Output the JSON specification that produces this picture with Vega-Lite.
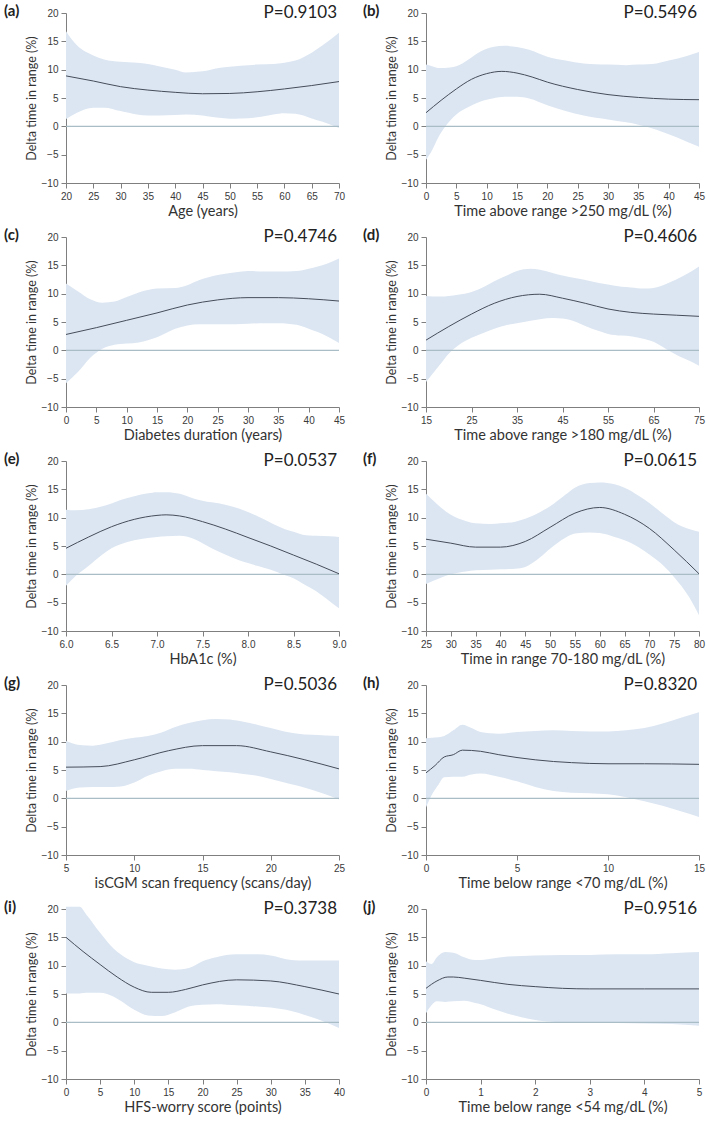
{
"$schema":"https://vega.github.io/schema/vega-lite/v6.json",
"padding":{"left":4,"top":4,"right":5,"bottom":5},
"columns":2,
"spacing":{"row":54,"column":87},
"bounds":"flush",
"datasets":{
"meta":[{"p":"a","t":"P=0.9103"},{"p":"b","t":"P=0.5496"},{"p":"c","t":"P=0.4746"},{"p":"d","t":"P=0.4606"},{"p":"e","t":"P=0.0537"},{"p":"f","t":"P=0.0615"},{"p":"g","t":"P=0.5036"},{"p":"h","t":"P=0.8320"},{"p":"i","t":"P=0.3738"},{"p":"j","t":"P=0.9516"}],
"band":[
{"p":"a","x":20,"lo":1.3,"hi":16.8},{"p":"a","x":22,"lo":2.4,"hi":14.3},{"p":"a","x":25,"lo":3.3,"hi":12.5},{"p":"a","x":27,"lo":3.3,"hi":11.8},{"p":"a","x":30,"lo":2.7,"hi":11.4},{"p":"a","x":33,"lo":2.1,"hi":11.2},{"p":"a","x":35,"lo":1.9,"hi":11.0},{"p":"a","x":37,"lo":1.9,"hi":10.6},{"p":"a","x":40,"lo":2.0,"hi":10.0},{"p":"a","x":42,"lo":2.1,"hi":9.5},{"p":"a","x":45,"lo":1.9,"hi":9.7},{"p":"a","x":48,"lo":1.5,"hi":10.3},{"p":"a","x":50,"lo":1.35,"hi":10.5},{"p":"a","x":52,"lo":1.4,"hi":10.7},{"p":"a","x":55,"lo":1.6,"hi":10.9},{"p":"a","x":58,"lo":2.1,"hi":11.0},{"p":"a","x":60,"lo":2.3,"hi":11.2},{"p":"a","x":62,"lo":2.2,"hi":11.6},{"p":"a","x":65,"lo":1.4,"hi":13.0},{"p":"a","x":67,"lo":0.8,"hi":14.3},{"p":"a","x":70,"lo":-0.3,"hi":16.5},
{"p":"b","x":0,"lo":-5.9,"hi":10.9},{"p":"b","x":1,"lo":-4.2,"hi":10.6},{"p":"b","x":2,"lo":-2.0,"hi":10.3},{"p":"b","x":3,"lo":-0.3,"hi":10.3},{"p":"b","x":5,"lo":2.1,"hi":10.6},{"p":"b","x":7,"lo":3.4,"hi":11.8},{"p":"b","x":9,"lo":4.4,"hi":13.2},{"p":"b","x":11,"lo":4.9,"hi":14.0},{"p":"b","x":13,"lo":5.2,"hi":14.2},{"p":"b","x":15,"lo":5.2,"hi":14.0},{"p":"b","x":17,"lo":4.9,"hi":13.5},{"p":"b","x":20,"lo":3.7,"hi":12.3},{"p":"b","x":23,"lo":2.7,"hi":11.6},{"p":"b","x":26,"lo":1.9,"hi":11.1},{"p":"b","x":30,"lo":1.2,"hi":10.9},{"p":"b","x":33,"lo":0.7,"hi":10.8},{"p":"b","x":35,"lo":0.3,"hi":10.9},{"p":"b","x":38,"lo":-0.6,"hi":11.1},{"p":"b","x":40,"lo":-1.4,"hi":11.6},{"p":"b","x":43,"lo":-2.7,"hi":12.4},{"p":"b","x":45,"lo":-3.6,"hi":13.1},
{"p":"c","x":0,"lo":-5.8,"hi":11.8},{"p":"c","x":2,"lo":-3.8,"hi":10.4},{"p":"c","x":4,"lo":-1.3,"hi":9.0},{"p":"c","x":6,"lo":0.3,"hi":8.4},{"p":"c","x":8,"lo":1.0,"hi":8.6},{"p":"c","x":10,"lo":1.2,"hi":9.4},{"p":"c","x":12,"lo":1.4,"hi":10.2},{"p":"c","x":15,"lo":2.3,"hi":10.9},{"p":"c","x":18,"lo":3.8,"hi":11.0},{"p":"c","x":20,"lo":4.4,"hi":11.5},{"p":"c","x":22,"lo":4.6,"hi":12.4},{"p":"c","x":25,"lo":4.6,"hi":13.3},{"p":"c","x":28,"lo":4.6,"hi":13.8},{"p":"c","x":30,"lo":4.7,"hi":14.0},{"p":"c","x":33,"lo":4.8,"hi":13.9},{"p":"c","x":35,"lo":4.8,"hi":13.9},{"p":"c","x":38,"lo":4.5,"hi":14.0},{"p":"c","x":40,"lo":3.8,"hi":14.4},{"p":"c","x":43,"lo":2.5,"hi":15.3},{"p":"c","x":45,"lo":1.3,"hi":16.2},
{"p":"d","x":15,"lo":-5.6,"hi":9.6},{"p":"d","x":18,"lo":-2.6,"hi":9.5},{"p":"d","x":20,"lo":-0.6,"hi":9.6},{"p":"d","x":22,"lo":0.8,"hi":9.8},{"p":"d","x":25,"lo":2.2,"hi":10.3},{"p":"d","x":28,"lo":3.2,"hi":11.3},{"p":"d","x":30,"lo":3.8,"hi":12.2},{"p":"d","x":33,"lo":4.5,"hi":13.3},{"p":"d","x":35,"lo":4.8,"hi":14.0},{"p":"d","x":38,"lo":5.2,"hi":14.4},{"p":"d","x":40,"lo":5.5,"hi":14.2},{"p":"d","x":43,"lo":5.7,"hi":13.6},{"p":"d","x":45,"lo":5.6,"hi":13.2},{"p":"d","x":48,"lo":5.0,"hi":12.7},{"p":"d","x":50,"lo":4.3,"hi":12.4},{"p":"d","x":53,"lo":3.4,"hi":11.9},{"p":"d","x":55,"lo":2.9,"hi":11.6},{"p":"d","x":58,"lo":2.6,"hi":11.2},{"p":"d","x":60,"lo":2.5,"hi":11.1},{"p":"d","x":63,"lo":2.0,"hi":10.9},{"p":"d","x":65,"lo":1.5,"hi":11.0},{"p":"d","x":68,"lo":0.1,"hi":11.8},{"p":"d","x":70,"lo":-0.8,"hi":12.5},{"p":"d","x":73,"lo":-1.9,"hi":13.8},{"p":"d","x":75,"lo":-2.7,"hi":14.8},
{"p":"e","x":6.0,"lo":-2.0,"hi":11.4},{"p":"e","x":6.1,"lo":-0.4,"hi":11.3},{"p":"e","x":6.25,"lo":1.5,"hi":11.5},{"p":"e","x":6.4,"lo":3.5,"hi":12.0},{"p":"e","x":6.5,"lo":4.6,"hi":12.5},{"p":"e","x":6.6,"lo":5.3,"hi":13.1},{"p":"e","x":6.75,"lo":6.0,"hi":13.8},{"p":"e","x":6.9,"lo":6.4,"hi":14.3},{"p":"e","x":7.0,"lo":6.6,"hi":14.5},{"p":"e","x":7.1,"lo":6.7,"hi":14.5},{"p":"e","x":7.25,"lo":6.8,"hi":14.2},{"p":"e","x":7.4,"lo":6.3,"hi":13.4},{"p":"e","x":7.5,"lo":5.5,"hi":13.0},{"p":"e","x":7.6,"lo":4.6,"hi":12.7},{"p":"e","x":7.75,"lo":3.5,"hi":12.3},{"p":"e","x":7.9,"lo":2.5,"hi":11.6},{"p":"e","x":8.0,"lo":2.0,"hi":11.0},{"p":"e","x":8.1,"lo":1.5,"hi":10.3},{"p":"e","x":8.25,"lo":0.8,"hi":9.1},{"p":"e","x":8.4,"lo":-0.1,"hi":8.0},{"p":"e","x":8.5,"lo":-0.7,"hi":7.5},{"p":"e","x":8.6,"lo":-1.6,"hi":7.0},{"p":"e","x":8.75,"lo":-3.0,"hi":6.8},{"p":"e","x":8.9,"lo":-4.8,"hi":6.7},{"p":"e","x":9.0,"lo":-6.0,"hi":6.6},
{"p":"f","x":25,"lo":-1.7,"hi":14.2},{"p":"f","x":28,"lo":-0.6,"hi":11.8},{"p":"f","x":30,"lo":0.0,"hi":10.5},{"p":"f","x":33,"lo":0.5,"hi":9.4},{"p":"f","x":35,"lo":0.7,"hi":9.0},{"p":"f","x":38,"lo":0.8,"hi":8.9},{"p":"f","x":40,"lo":0.9,"hi":9.0},{"p":"f","x":43,"lo":1.0,"hi":9.3},{"p":"f","x":45,"lo":1.3,"hi":9.8},{"p":"f","x":48,"lo":3.0,"hi":11.0},{"p":"f","x":50,"lo":4.5,"hi":12.0},{"p":"f","x":53,"lo":6.4,"hi":14.0},{"p":"f","x":55,"lo":7.2,"hi":15.3},{"p":"f","x":58,"lo":7.4,"hi":16.1},{"p":"f","x":60,"lo":7.3,"hi":16.2},{"p":"f","x":63,"lo":6.6,"hi":15.9},{"p":"f","x":65,"lo":6.0,"hi":15.3},{"p":"f","x":68,"lo":4.7,"hi":13.8},{"p":"f","x":70,"lo":3.5,"hi":12.6},{"p":"f","x":73,"lo":1.4,"hi":10.5},{"p":"f","x":75,"lo":-0.5,"hi":9.2},{"p":"f","x":78,"lo":-4.0,"hi":8.0},{"p":"f","x":80,"lo":-7.2,"hi":7.5},
{"p":"g","x":5,"lo":1.3,"hi":10.1},{"p":"g","x":6,"lo":1.9,"hi":9.4},{"p":"g","x":7,"lo":2.0,"hi":9.3},{"p":"g","x":8,"lo":2.0,"hi":9.7},{"p":"g","x":9,"lo":2.1,"hi":10.3},{"p":"g","x":10,"lo":2.8,"hi":10.7},{"p":"g","x":11,"lo":4.0,"hi":11.0},{"p":"g","x":12,"lo":4.8,"hi":11.6},{"p":"g","x":13,"lo":5.2,"hi":12.6},{"p":"g","x":14,"lo":5.2,"hi":13.3},{"p":"g","x":15,"lo":5.0,"hi":13.8},{"p":"g","x":16,"lo":4.8,"hi":14.0},{"p":"g","x":17,"lo":4.6,"hi":13.9},{"p":"g","x":18,"lo":4.3,"hi":13.5},{"p":"g","x":19,"lo":4.0,"hi":13.0},{"p":"g","x":20,"lo":3.4,"hi":12.4},{"p":"g","x":21,"lo":2.8,"hi":11.8},{"p":"g","x":22,"lo":2.2,"hi":11.4},{"p":"g","x":23,"lo":1.5,"hi":11.2},{"p":"g","x":24,"lo":0.7,"hi":11.1},{"p":"g","x":25,"lo":-0.2,"hi":11.0},
{"p":"h","x":0,"lo":-1.6,"hi":10.6},{"p":"h","x":0.3,"lo":0.5,"hi":10.7},{"p":"h","x":0.7,"lo":2.5,"hi":10.8},{"p":"h","x":1,"lo":3.7,"hi":11.0},{"p":"h","x":1.5,"lo":3.8,"hi":12.0},{"p":"h","x":2,"lo":3.8,"hi":13.0},{"p":"h","x":2.5,"lo":4.2,"hi":12.4},{"p":"h","x":3,"lo":4.4,"hi":11.7},{"p":"h","x":4,"lo":3.8,"hi":11.4},{"p":"h","x":5,"lo":3.0,"hi":11.7},{"p":"h","x":6,"lo":2.0,"hi":11.9},{"p":"h","x":7,"lo":1.3,"hi":12.0},{"p":"h","x":8,"lo":1.0,"hi":11.9},{"p":"h","x":9,"lo":0.9,"hi":11.8},{"p":"h","x":10,"lo":0.7,"hi":11.8},{"p":"h","x":11,"lo":0.2,"hi":12.0},{"p":"h","x":12,"lo":-0.5,"hi":12.4},{"p":"h","x":13,"lo":-1.3,"hi":13.2},{"p":"h","x":14,"lo":-2.3,"hi":14.2},{"p":"h","x":15,"lo":-3.3,"hi":15.2},
{"p":"i","x":0,"lo":5.1,"hi":20.4},{"p":"i","x":2,"lo":5.1,"hi":20.4},{"p":"i","x":3,"lo":5.2,"hi":19.0},{"p":"i","x":5,"lo":5.2,"hi":15.8},{"p":"i","x":7,"lo":4.5,"hi":13.0},{"p":"i","x":8,"lo":3.8,"hi":12.0},{"p":"i","x":10,"lo":2.2,"hi":10.6},{"p":"i","x":12,"lo":1.2,"hi":10.0},{"p":"i","x":14,"lo":1.1,"hi":9.5},{"p":"i","x":16,"lo":1.8,"hi":9.3},{"p":"i","x":18,"lo":2.8,"hi":9.6},{"p":"i","x":20,"lo":3.1,"hi":10.8},{"p":"i","x":22,"lo":3.2,"hi":11.5},{"p":"i","x":25,"lo":3.0,"hi":12.0},{"p":"i","x":28,"lo":2.8,"hi":12.0},{"p":"i","x":30,"lo":2.6,"hi":11.8},{"p":"i","x":33,"lo":2.0,"hi":11.0},{"p":"i","x":35,"lo":1.3,"hi":10.9},{"p":"i","x":37,"lo":0.5,"hi":10.9},{"p":"i","x":40,"lo":-1.0,"hi":10.9},
{"p":"j","x":0,"lo":1.6,"hi":10.8},{"p":"j","x":0.1,"lo":3.0,"hi":10.3},{"p":"j","x":0.2,"lo":3.7,"hi":11.5},{"p":"j","x":0.35,"lo":3.6,"hi":12.4},{"p":"j","x":0.5,"lo":3.7,"hi":12.3},{"p":"j","x":0.7,"lo":3.8,"hi":11.5},{"p":"j","x":0.9,"lo":3.4,"hi":11.0},{"p":"j","x":1.0,"lo":3.2,"hi":11.0},{"p":"j","x":1.25,"lo":2.3,"hi":11.3},{"p":"j","x":1.5,"lo":1.5,"hi":11.6},{"p":"j","x":1.75,"lo":0.9,"hi":11.7},{"p":"j","x":2,"lo":0.4,"hi":11.8},{"p":"j","x":2.5,"lo":0.0,"hi":11.9},{"p":"j","x":3,"lo":-0.1,"hi":11.9},{"p":"j","x":3.5,"lo":-0.1,"hi":12.0},{"p":"j","x":4,"lo":-0.2,"hi":12.0},{"p":"j","x":4.5,"lo":-0.3,"hi":12.2},{"p":"j","x":5,"lo":-0.6,"hi":12.4}
],
"est":[
{"p":"a","x":20,"y":8.9},{"p":"a","x":25,"y":8.0},{"p":"a","x":30,"y":7.0},{"p":"a","x":35,"y":6.4},{"p":"a","x":40,"y":6.0},{"p":"a","x":45,"y":5.75},{"p":"a","x":50,"y":5.8},{"p":"a","x":55,"y":6.1},{"p":"a","x":60,"y":6.6},{"p":"a","x":65,"y":7.2},{"p":"a","x":70,"y":7.9},
{"p":"b","x":0,"y":2.4},{"p":"b","x":2.5,"y":4.6},{"p":"b","x":5,"y":6.6},{"p":"b","x":7.5,"y":8.3},{"p":"b","x":10,"y":9.3},{"p":"b","x":12.5,"y":9.7},{"p":"b","x":15,"y":9.4},{"p":"b","x":17.5,"y":8.7},{"p":"b","x":20,"y":7.8},{"p":"b","x":25,"y":6.5},{"p":"b","x":30,"y":5.6},{"p":"b","x":35,"y":5.1},{"p":"b","x":40,"y":4.8},{"p":"b","x":45,"y":4.7},
{"p":"c","x":0,"y":2.8},{"p":"c","x":5,"y":4.0},{"p":"c","x":10,"y":5.3},{"p":"c","x":15,"y":6.6},{"p":"c","x":20,"y":8.0},{"p":"c","x":25,"y":8.9},{"p":"c","x":30,"y":9.3},{"p":"c","x":35,"y":9.3},{"p":"c","x":40,"y":9.1},{"p":"c","x":45,"y":8.7},
{"p":"d","x":15,"y":1.8},{"p":"d","x":20,"y":4.2},{"p":"d","x":25,"y":6.4},{"p":"d","x":30,"y":8.3},{"p":"d","x":35,"y":9.5},{"p":"d","x":40,"y":9.9},{"p":"d","x":45,"y":9.2},{"p":"d","x":50,"y":8.3},{"p":"d","x":55,"y":7.3},{"p":"d","x":60,"y":6.7},{"p":"d","x":65,"y":6.4},{"p":"d","x":70,"y":6.2},{"p":"d","x":75,"y":6.0},
{"p":"e","x":6.0,"y":4.6},{"p":"e","x":6.25,"y":6.6},{"p":"e","x":6.5,"y":8.4},{"p":"e","x":6.75,"y":9.7},{"p":"e","x":7.0,"y":10.4},{"p":"e","x":7.1,"y":10.5},{"p":"e","x":7.25,"y":10.3},{"p":"e","x":7.5,"y":9.3},{"p":"e","x":7.75,"y":8.0},{"p":"e","x":8.0,"y":6.5},{"p":"e","x":8.25,"y":5.0},{"p":"e","x":8.5,"y":3.4},{"p":"e","x":8.75,"y":1.8},{"p":"e","x":9.0,"y":0.1},
{"p":"f","x":25,"y":6.2},{"p":"f","x":30,"y":5.5},{"p":"f","x":35,"y":4.8},{"p":"f","x":40,"y":4.8},{"p":"f","x":45,"y":5.8},{"p":"f","x":50,"y":8.3},{"p":"f","x":55,"y":10.8},{"p":"f","x":60,"y":11.8},{"p":"f","x":65,"y":10.6},{"p":"f","x":70,"y":8.1},{"p":"f","x":75,"y":4.3},{"p":"f","x":80,"y":0.1},
{"p":"g","x":5,"y":5.5},{"p":"g","x":7.5,"y":5.6},{"p":"g","x":10,"y":6.8},{"p":"g","x":12.5,"y":8.4},{"p":"g","x":15,"y":9.3},{"p":"g","x":17.5,"y":9.3},{"p":"g","x":20,"y":8.2},{"p":"g","x":22.5,"y":6.8},{"p":"g","x":25,"y":5.2},
{"p":"h","x":0,"y":4.5},{"p":"h","x":0.5,"y":5.8},{"p":"h","x":1,"y":7.3},{"p":"h","x":1.5,"y":7.7},{"p":"h","x":2,"y":8.5},{"p":"h","x":3,"y":8.3},{"p":"h","x":4,"y":7.7},{"p":"h","x":5,"y":7.2},{"p":"h","x":6,"y":6.8},{"p":"h","x":7,"y":6.5},{"p":"h","x":8,"y":6.3},{"p":"h","x":10,"y":6.1},{"p":"h","x":12,"y":6.1},{"p":"h","x":15,"y":6.0},
{"p":"i","x":0,"y":15.0},{"p":"i","x":2.5,"y":12.5},{"p":"i","x":5,"y":10.2},{"p":"i","x":7.5,"y":8.0},{"p":"i","x":10,"y":6.2},{"p":"i","x":12.5,"y":5.3},{"p":"i","x":15,"y":5.3},{"p":"i","x":17.5,"y":5.8},{"p":"i","x":20,"y":6.6},{"p":"i","x":25,"y":7.5},{"p":"i","x":30,"y":7.3},{"p":"i","x":35,"y":6.3},{"p":"i","x":40,"y":5.0},
{"p":"j","x":0,"y":6.0},{"p":"j","x":0.2,"y":7.3},{"p":"j","x":0.4,"y":8.0},{"p":"j","x":0.5,"y":8.0},{"p":"j","x":0.7,"y":7.8},{"p":"j","x":1.0,"y":7.4},{"p":"j","x":1.5,"y":6.7},{"p":"j","x":2.0,"y":6.3},{"p":"j","x":2.5,"y":6.0},{"p":"j","x":3,"y":5.9},{"p":"j","x":4,"y":5.9},{"p":"j","x":5,"y":5.9}
]
},
"concat":[
{"title":{"text":"(a)","dx":-62},"width":273,"height":170,"layer":[
 {"data":{"name":"band"},"transform":[{"filter":"datum.p==='a'"}],"mark":{"type":"area","color":"#dce6f2","interpolate":"monotone"},"encoding":{"x":{"field":"x","type":"quantitative","scale":{"domain":[20,70],"nice":false},"axis":{"values":[20,25,30,35,40,45,50,55,60,65,70],"tickCount":30,"format":"d","title":"Age (years)"}},"y":{"field":"lo","type":"quantitative","scale":{"domain":[-10,20],"nice":false},"axis":{"values":[-10,-5,0,5,10,15,20],"tickCount":30,"format":"d","title":"Delta time in range (%)"}},"y2":{"field":"hi"}}},
 {"data":{"name":"meta"},"transform":[{"filter":"datum.p==='a'"}],"mark":{"type":"rule","color":"#a9bdc6","strokeWidth":1.2},"encoding":{"y":{"datum":0}}},
 {"data":{"name":"est"},"transform":[{"filter":"datum.p==='a'"}],"mark":{"type":"line","color":"#464d5a","strokeWidth":1,"interpolate":"monotone"},"encoding":{"x":{"field":"x","type":"quantitative"},"y":{"field":"y","type":"quantitative"}}},
 {"data":{"name":"meta"},"transform":[{"filter":"datum.p==='a'"}],"mark":{"type":"text","align":"right","baseline":"middle","font":"Lato","fontSize":17,"color":"#222","dx":-2},"encoding":{"x":{"datum":70},"y":{"datum":20},"text":{"field":"t"}}}
]},
{"title":{"text":"(b)","dx":-63},"width":273,"height":170,"layer":[
 {"data":{"name":"band"},"transform":[{"filter":"datum.p==='b'"}],"mark":{"type":"area","color":"#dce6f2","interpolate":"monotone"},"encoding":{"x":{"field":"x","type":"quantitative","scale":{"domain":[0,45],"nice":false},"axis":{"values":[0,5,10,15,20,25,30,35,40,45],"tickCount":30,"format":"d","title":"Time above range >250 mg/dL (%)"}},"y":{"field":"lo","type":"quantitative","scale":{"domain":[-10,20],"nice":false},"axis":{"values":[-10,-5,0,5,10,15,20],"tickCount":30,"format":"d","title":"Delta time in range (%)"}},"y2":{"field":"hi"}}},
 {"data":{"name":"meta"},"transform":[{"filter":"datum.p==='b'"}],"mark":{"type":"rule","color":"#a9bdc6","strokeWidth":1.2},"encoding":{"y":{"datum":0}}},
 {"data":{"name":"est"},"transform":[{"filter":"datum.p==='b'"}],"mark":{"type":"line","color":"#464d5a","strokeWidth":1,"interpolate":"monotone"},"encoding":{"x":{"field":"x","type":"quantitative"},"y":{"field":"y","type":"quantitative"}}},
 {"data":{"name":"meta"},"transform":[{"filter":"datum.p==='b'"}],"mark":{"type":"text","align":"right","baseline":"middle","font":"Lato","fontSize":17,"color":"#222","dx":-2},"encoding":{"x":{"datum":45},"y":{"datum":20},"text":{"field":"t"}}}
]},
{"title":{"text":"(c)","dx":-62},"width":273,"height":170,"layer":[
 {"data":{"name":"band"},"transform":[{"filter":"datum.p==='c'"}],"mark":{"type":"area","color":"#dce6f2","interpolate":"monotone"},"encoding":{"x":{"field":"x","type":"quantitative","scale":{"domain":[0,45],"nice":false},"axis":{"values":[0,5,10,15,20,25,30,35,40,45],"tickCount":30,"format":"d","title":"Diabetes duration (years)"}},"y":{"field":"lo","type":"quantitative","scale":{"domain":[-10,20],"nice":false},"axis":{"values":[-10,-5,0,5,10,15,20],"tickCount":30,"format":"d","title":"Delta time in range (%)"}},"y2":{"field":"hi"}}},
 {"data":{"name":"meta"},"transform":[{"filter":"datum.p==='c'"}],"mark":{"type":"rule","color":"#a9bdc6","strokeWidth":1.2},"encoding":{"y":{"datum":0}}},
 {"data":{"name":"est"},"transform":[{"filter":"datum.p==='c'"}],"mark":{"type":"line","color":"#464d5a","strokeWidth":1,"interpolate":"monotone"},"encoding":{"x":{"field":"x","type":"quantitative"},"y":{"field":"y","type":"quantitative"}}},
 {"data":{"name":"meta"},"transform":[{"filter":"datum.p==='c'"}],"mark":{"type":"text","align":"right","baseline":"middle","font":"Lato","fontSize":17,"color":"#222","dx":-2},"encoding":{"x":{"datum":45},"y":{"datum":20},"text":{"field":"t"}}}
]},
{"title":{"text":"(d)","dx":-63},"width":273,"height":170,"layer":[
 {"data":{"name":"band"},"transform":[{"filter":"datum.p==='d'"}],"mark":{"type":"area","color":"#dce6f2","interpolate":"monotone"},"encoding":{"x":{"field":"x","type":"quantitative","scale":{"domain":[15,75],"nice":false},"axis":{"values":[15,25,35,45,55,65,75],"tickCount":30,"format":"d","title":"Time above range >180 mg/dL (%)"}},"y":{"field":"lo","type":"quantitative","scale":{"domain":[-10,20],"nice":false},"axis":{"values":[-10,-5,0,5,10,15,20],"tickCount":30,"format":"d","title":"Delta time in range (%)"}},"y2":{"field":"hi"}}},
 {"data":{"name":"meta"},"transform":[{"filter":"datum.p==='d'"}],"mark":{"type":"rule","color":"#a9bdc6","strokeWidth":1.2},"encoding":{"y":{"datum":0}}},
 {"data":{"name":"est"},"transform":[{"filter":"datum.p==='d'"}],"mark":{"type":"line","color":"#464d5a","strokeWidth":1,"interpolate":"monotone"},"encoding":{"x":{"field":"x","type":"quantitative"},"y":{"field":"y","type":"quantitative"}}},
 {"data":{"name":"meta"},"transform":[{"filter":"datum.p==='d'"}],"mark":{"type":"text","align":"right","baseline":"middle","font":"Lato","fontSize":17,"color":"#222","dx":-2},"encoding":{"x":{"datum":75},"y":{"datum":20},"text":{"field":"t"}}}
]},
{"title":{"text":"(e)","dx":-62},"width":273,"height":170,"layer":[
 {"data":{"name":"band"},"transform":[{"filter":"datum.p==='e'"}],"mark":{"type":"area","color":"#dce6f2","interpolate":"monotone"},"encoding":{"x":{"field":"x","type":"quantitative","scale":{"domain":[6,9],"nice":false},"axis":{"values":[6,6.5,7,7.5,8,8.5,9],"tickCount":30,"format":".1f","title":"HbA1c (%)"}},"y":{"field":"lo","type":"quantitative","scale":{"domain":[-10,20],"nice":false},"axis":{"values":[-10,-5,0,5,10,15,20],"tickCount":30,"format":"d","title":"Delta time in range (%)"}},"y2":{"field":"hi"}}},
 {"data":{"name":"meta"},"transform":[{"filter":"datum.p==='e'"}],"mark":{"type":"rule","color":"#a9bdc6","strokeWidth":1.2},"encoding":{"y":{"datum":0}}},
 {"data":{"name":"est"},"transform":[{"filter":"datum.p==='e'"}],"mark":{"type":"line","color":"#464d5a","strokeWidth":1,"interpolate":"monotone"},"encoding":{"x":{"field":"x","type":"quantitative"},"y":{"field":"y","type":"quantitative"}}},
 {"data":{"name":"meta"},"transform":[{"filter":"datum.p==='e'"}],"mark":{"type":"text","align":"right","baseline":"middle","font":"Lato","fontSize":17,"color":"#222","dx":-2},"encoding":{"x":{"datum":9},"y":{"datum":20},"text":{"field":"t"}}}
]},
{"title":{"text":"(f)","dx":-63},"width":273,"height":170,"layer":[
 {"data":{"name":"band"},"transform":[{"filter":"datum.p==='f'"}],"mark":{"type":"area","color":"#dce6f2","interpolate":"monotone"},"encoding":{"x":{"field":"x","type":"quantitative","scale":{"domain":[25,80],"nice":false},"axis":{"values":[25,30,35,40,45,50,55,60,65,70,75,80],"tickCount":30,"format":"d","title":"Time in range 70-180 mg/dL (%)"}},"y":{"field":"lo","type":"quantitative","scale":{"domain":[-10,20],"nice":false},"axis":{"values":[-10,-5,0,5,10,15,20],"tickCount":30,"format":"d","title":"Delta time in range (%)"}},"y2":{"field":"hi"}}},
 {"data":{"name":"meta"},"transform":[{"filter":"datum.p==='f'"}],"mark":{"type":"rule","color":"#a9bdc6","strokeWidth":1.2},"encoding":{"y":{"datum":0}}},
 {"data":{"name":"est"},"transform":[{"filter":"datum.p==='f'"}],"mark":{"type":"line","color":"#464d5a","strokeWidth":1,"interpolate":"monotone"},"encoding":{"x":{"field":"x","type":"quantitative"},"y":{"field":"y","type":"quantitative"}}},
 {"data":{"name":"meta"},"transform":[{"filter":"datum.p==='f'"}],"mark":{"type":"text","align":"right","baseline":"middle","font":"Lato","fontSize":17,"color":"#222","dx":-2},"encoding":{"x":{"datum":80},"y":{"datum":20},"text":{"field":"t"}}}
]},
{"title":{"text":"(g)","dx":-62},"width":273,"height":170,"layer":[
 {"data":{"name":"band"},"transform":[{"filter":"datum.p==='g'"}],"mark":{"type":"area","color":"#dce6f2","interpolate":"monotone"},"encoding":{"x":{"field":"x","type":"quantitative","scale":{"domain":[5,25],"nice":false},"axis":{"values":[5,10,15,20,25],"tickCount":30,"format":"d","title":"isCGM scan frequency (scans/day)"}},"y":{"field":"lo","type":"quantitative","scale":{"domain":[-10,20],"nice":false},"axis":{"values":[-10,-5,0,5,10,15,20],"tickCount":30,"format":"d","title":"Delta time in range (%)"}},"y2":{"field":"hi"}}},
 {"data":{"name":"meta"},"transform":[{"filter":"datum.p==='g'"}],"mark":{"type":"rule","color":"#a9bdc6","strokeWidth":1.2},"encoding":{"y":{"datum":0}}},
 {"data":{"name":"est"},"transform":[{"filter":"datum.p==='g'"}],"mark":{"type":"line","color":"#464d5a","strokeWidth":1,"interpolate":"monotone"},"encoding":{"x":{"field":"x","type":"quantitative"},"y":{"field":"y","type":"quantitative"}}},
 {"data":{"name":"meta"},"transform":[{"filter":"datum.p==='g'"}],"mark":{"type":"text","align":"right","baseline":"middle","font":"Lato","fontSize":17,"color":"#222","dx":-2},"encoding":{"x":{"datum":25},"y":{"datum":20},"text":{"field":"t"}}}
]},
{"title":{"text":"(h)","dx":-63},"width":273,"height":170,"layer":[
 {"data":{"name":"band"},"transform":[{"filter":"datum.p==='h'"}],"mark":{"type":"area","color":"#dce6f2","interpolate":"monotone"},"encoding":{"x":{"field":"x","type":"quantitative","scale":{"domain":[0,15],"nice":false},"axis":{"values":[0,5,10,15],"tickCount":30,"format":"d","title":"Time below range <70 mg/dL (%)"}},"y":{"field":"lo","type":"quantitative","scale":{"domain":[-10,20],"nice":false},"axis":{"values":[-10,-5,0,5,10,15,20],"tickCount":30,"format":"d","title":"Delta time in range (%)"}},"y2":{"field":"hi"}}},
 {"data":{"name":"meta"},"transform":[{"filter":"datum.p==='h'"}],"mark":{"type":"rule","color":"#a9bdc6","strokeWidth":1.2},"encoding":{"y":{"datum":0}}},
 {"data":{"name":"est"},"transform":[{"filter":"datum.p==='h'"}],"mark":{"type":"line","color":"#464d5a","strokeWidth":1,"interpolate":"monotone"},"encoding":{"x":{"field":"x","type":"quantitative"},"y":{"field":"y","type":"quantitative"}}},
 {"data":{"name":"meta"},"transform":[{"filter":"datum.p==='h'"}],"mark":{"type":"text","align":"right","baseline":"middle","font":"Lato","fontSize":17,"color":"#222","dx":-2},"encoding":{"x":{"datum":15},"y":{"datum":20},"text":{"field":"t"}}}
]},
{"title":{"text":"(i)","dx":-62},"width":273,"height":170,"layer":[
 {"data":{"name":"band"},"transform":[{"filter":"datum.p==='i'"}],"mark":{"type":"area","color":"#dce6f2","interpolate":"monotone"},"encoding":{"x":{"field":"x","type":"quantitative","scale":{"domain":[0,40],"nice":false},"axis":{"values":[0,5,10,15,20,25,30,35,40],"tickCount":30,"format":"d","title":"HFS-worry score (points)"}},"y":{"field":"lo","type":"quantitative","scale":{"domain":[-10,20],"nice":false},"axis":{"values":[-10,-5,0,5,10,15,20],"tickCount":30,"format":"d","title":"Delta time in range (%)"}},"y2":{"field":"hi"}}},
 {"data":{"name":"meta"},"transform":[{"filter":"datum.p==='i'"}],"mark":{"type":"rule","color":"#a9bdc6","strokeWidth":1.2},"encoding":{"y":{"datum":0}}},
 {"data":{"name":"est"},"transform":[{"filter":"datum.p==='i'"}],"mark":{"type":"line","color":"#464d5a","strokeWidth":1,"interpolate":"monotone"},"encoding":{"x":{"field":"x","type":"quantitative"},"y":{"field":"y","type":"quantitative"}}},
 {"data":{"name":"meta"},"transform":[{"filter":"datum.p==='i'"}],"mark":{"type":"text","align":"right","baseline":"middle","font":"Lato","fontSize":17,"color":"#222","dx":-2},"encoding":{"x":{"datum":40},"y":{"datum":20},"text":{"field":"t"}}}
]},
{"title":{"text":"(j)","dx":-63},"width":273,"height":170,"layer":[
 {"data":{"name":"band"},"transform":[{"filter":"datum.p==='j'"}],"mark":{"type":"area","color":"#dce6f2","interpolate":"monotone"},"encoding":{"x":{"field":"x","type":"quantitative","scale":{"domain":[0,5],"nice":false},"axis":{"values":[0,1,2,3,4,5],"tickCount":30,"format":"d","title":"Time below range <54 mg/dL (%)"}},"y":{"field":"lo","type":"quantitative","scale":{"domain":[-10,20],"nice":false},"axis":{"values":[-10,-5,0,5,10,15,20],"tickCount":30,"format":"d","title":"Delta time in range (%)"}},"y2":{"field":"hi"}}},
 {"data":{"name":"meta"},"transform":[{"filter":"datum.p==='j'"}],"mark":{"type":"rule","color":"#a9bdc6","strokeWidth":1.2},"encoding":{"y":{"datum":0}}},
 {"data":{"name":"est"},"transform":[{"filter":"datum.p==='j'"}],"mark":{"type":"line","color":"#464d5a","strokeWidth":1,"interpolate":"monotone"},"encoding":{"x":{"field":"x","type":"quantitative"},"y":{"field":"y","type":"quantitative"}}},
 {"data":{"name":"meta"},"transform":[{"filter":"datum.p==='j'"}],"mark":{"type":"text","align":"right","baseline":"middle","font":"Lato","fontSize":17,"color":"#222","dx":-2},"encoding":{"x":{"datum":5},"y":{"datum":20},"text":{"field":"t"}}}
]}
],
"config":{
 "view":{"stroke":null},
 "axis":{"grid":false,"domainColor":"#7f7f7f","tickColor":"#7f7f7f","tickSize":5,"labelFont":"Liberation Sans","labelFontSize":10,"labelColor":"#3a3a3a","labelFlush":false,"labelOverlap":false,"titleFont":"Lato","titleFontSize":14.5,"titleFontWeight":"normal","titleColor":"#333333"},
 "axisX":{"labelPadding":3,"titlePadding":3},
 "axisY":{"labelPadding":3,"titlePadding":3,"titleFontSize":12.5},
 "title":{"anchor":"start","frame":"group","font":"Lato","fontSize":15,"fontWeight":"bold","color":"#222222","offset":0,"baseline":"alphabetic","dy":19}
}
}
